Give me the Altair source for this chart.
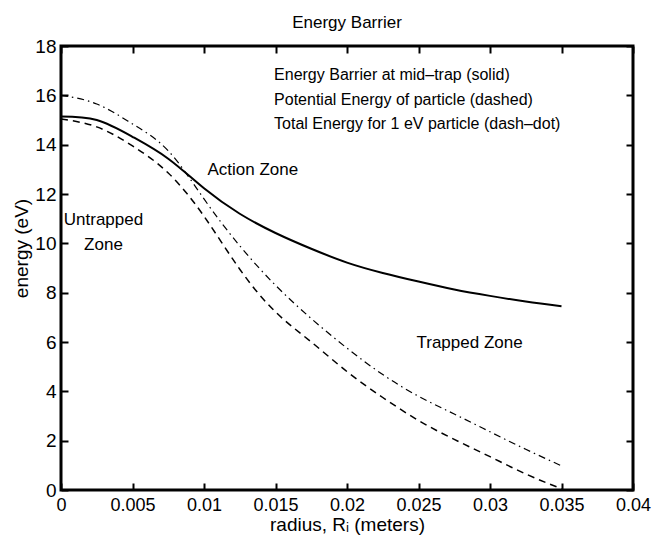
import altair as alt
import pandas as pd

# ---- data ----
radius = [0, 0.0025, 0.005, 0.0075, 0.01, 0.0125, 0.015, 0.0175, 0.02,
          0.0225, 0.025, 0.0275, 0.03, 0.0325, 0.035]
barrier = [15.14, 15.0, 14.32, 13.43, 12.23, 11.2, 10.42, 9.78, 9.22,
           8.8, 8.45, 8.13, 7.87, 7.64, 7.45]
potential = [15.04, 14.72, 13.95, 12.85, 11.1, 8.95, 7.22, 6.0, 4.8,
             3.75, 2.82, 2.05, 1.35, 0.65, 0.05]
total = [16.0, 15.65, 14.84, 13.75, 11.8, 9.9, 8.3, 6.95, 5.75,
         4.68, 3.8, 3.08, 2.36, 1.65, 0.98]

x_ticks = [0, 0.005, 0.01, 0.015, 0.02, 0.025, 0.03, 0.035, 0.04]
y_ticks = [0, 2, 4, 6, 8, 10, 12, 14, 16, 18]

legend_text = ["Energy Barrier at mid\u2013trap (solid)",
               "Potential Energy of particle (dashed)",
               "Total Energy for 1  eV particle (dash\u2013dot)"]
legend_r = [0.0149, 0.0149, 0.0149]
legend_e = [16.84, 15.82, 14.85]

left_text = ["Action Zone", "Trapped Zone"]
left_r = [0.01024, 0.02486]
left_e = [12.98, 5.96]

center_text = ["Untrapped", "Zone"]
center_r = [0.00297, 0.00297]
center_e = [10.95, 9.94]

W, H = 572, 444
FONT = "Liberation Sans"

df_b = pd.DataFrame({"r": radius, "e": barrier})
df_p = pd.DataFrame({"r": radius, "e": potential})
df_t = pd.DataFrame({"r": radius, "e": total})
df_leg = pd.DataFrame({"r": legend_r, "e": legend_e, "t": legend_text})
df_left = pd.DataFrame({"r": left_r, "e": left_e, "t": left_text})
df_center = pd.DataFrame({"r": center_r, "e": center_e, "t": center_text})

xs = alt.Scale(domain=[0, 0.04], nice=False, zero=False)
ys = alt.Scale(domain=[0, 18], nice=False, zero=False)

tick_common = dict(labels=False, title=None, domain=False, grid=False,
                   ticks=True, tickSize=7, tickWidth=2, tickColor="black")

# main line with labelled axes
solid = alt.Chart(df_b).mark_line(color="black", strokeWidth=2,
                                  interpolate="natural").encode(
    x=alt.X("r:Q", scale=xs, axis=alt.Axis(
        orient="bottom", values=x_ticks, format="~g",
        title="radius, R\u1d62 (meters)", ticks=False, tickSize=0,
        domain=False, grid=False, labelFontSize=18, labelPadding=6,
        labelFlush=False, labelOverlap=False, labelColor="black",
        titleFontSize=19, titleFontWeight="normal", titleColor="black",
        titleY=40, titleBaseline="alphabetic")),
    y=alt.Y("e:Q", scale=ys, axis=alt.Axis(
        orient="left", values=y_ticks, title="energy (eV)", ticks=False,
        tickSize=0, domain=False, grid=False, labelFontSize=19,
        labelPadding=5, labelFlush=False, labelOverlap=False,
        labelColor="black", titleFontSize=19, titleFontWeight="normal",
        titleColor="black", titleX=-40, titleY=H / 2 - 20,
        titleBaseline="middle", titleAngle=-90)),
)

# dashed line: inward ticks on bottom and left edges
dashed = alt.Chart(df_p).mark_line(color="black", strokeWidth=1.5,
                                   strokeDash=[7, 5],
                                   interpolate="natural").encode(
    x=alt.X("r:Q", scale=xs, axis=alt.Axis(orient="top", offset=-H,
                                           values=x_ticks, **tick_common)),
    y=alt.Y("e:Q", scale=ys, axis=alt.Axis(orient="right", offset=-W,
                                           values=y_ticks, **tick_common)),
)

# dash-dot line: inward ticks on top and right edges
dashdot = alt.Chart(df_t).mark_line(color="black", strokeWidth=1.2,
                                    strokeDash=[7, 4, 1.5, 4],
                                    interpolate="natural").encode(
    x=alt.X("r:Q", scale=xs, axis=alt.Axis(orient="bottom", offset=-H,
                                           values=x_ticks, **tick_common)),
    y=alt.Y("e:Q", scale=ys, axis=alt.Axis(orient="left", offset=-W,
                                           values=y_ticks, **tick_common)),
)

legend = alt.Chart(df_leg).mark_text(align="left", baseline="middle",
                                     fontSize=16, color="black",
                                     font=FONT).encode(
    x=alt.X("r:Q", scale=xs, axis=None),
    y=alt.Y("e:Q", scale=ys, axis=None),
    text="t:N",
)
zones_left = alt.Chart(df_left).mark_text(align="left", baseline="middle",
                                          fontSize=17, color="black",
                                          font=FONT).encode(
    x=alt.X("r:Q", scale=xs, axis=None),
    y=alt.Y("e:Q", scale=ys, axis=None),
    text="t:N",
)
zones_center = alt.Chart(df_center).mark_text(align="center",
                                              baseline="middle",
                                              fontSize=17, color="black",
                                              font=FONT).encode(
    x=alt.X("r:Q", scale=xs, axis=None),
    y=alt.Y("e:Q", scale=ys, axis=None),
    text="t:N",
)

chart = alt.layer(solid, dashed, dashdot, legend, zones_left, zones_center).resolve_axis(
    x="independent", y="independent"
).properties(
    width=W, height=H,
    title=alt.TitleParams("Energy Barrier", fontSize=17, fontWeight="normal",
                          color="black", offset=20, baseline="alphabetic",
                          anchor="middle", font=FONT, frame="group", dy=28),
    autosize=alt.AutoSizeParams(type="none"),
    padding={"left": 61, "top": 46, "right": 22, "bottom": 54},
).configure(
    font=FONT, background="white"
).configure_view(
    stroke="black", strokeWidth=3
)

chart.save("out.html", embed_options={"renderer": "svg", "actions": False})
